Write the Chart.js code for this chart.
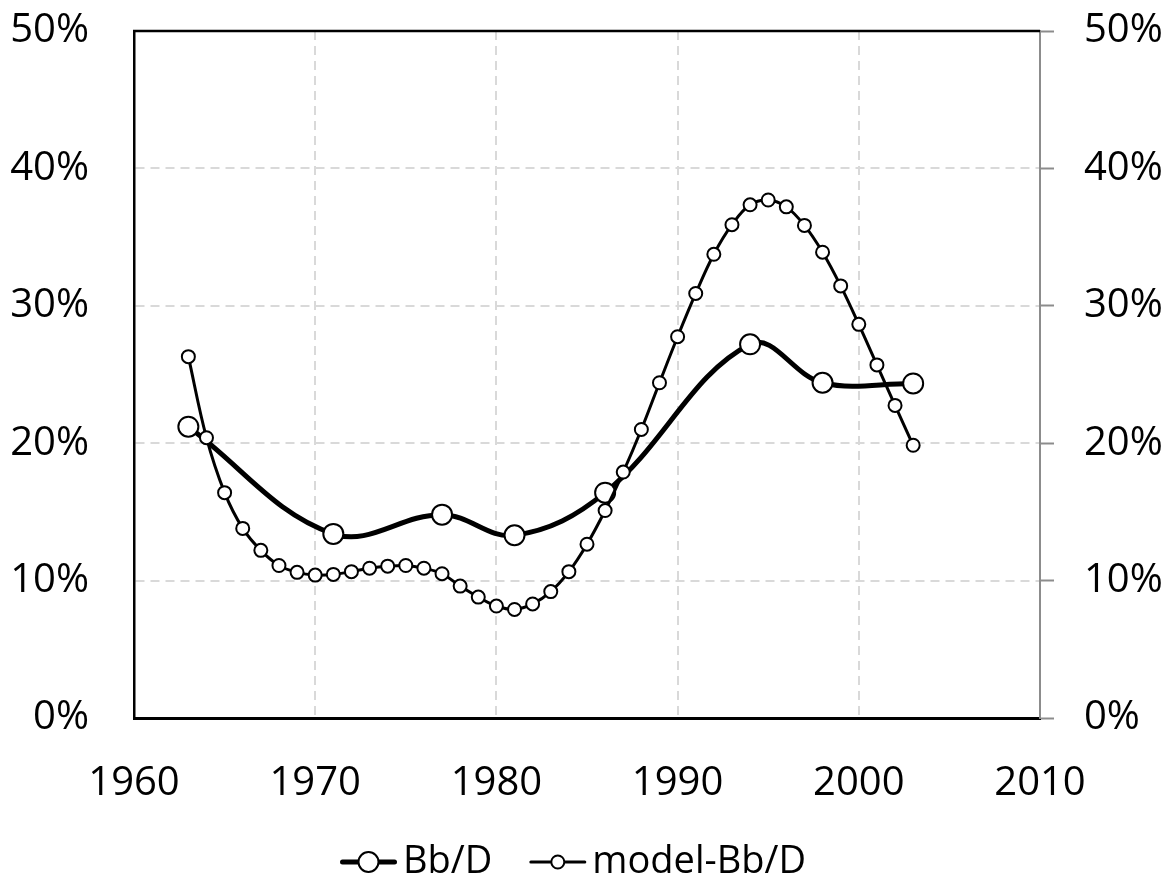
<!DOCTYPE html>
<html><head><meta charset="utf-8">
<script src="https://cdn.jsdelivr.net/npm/chart.js@4.4.1/dist/chart.umd.min.js"></script>
<style>html,body{margin:0;padding:0;background:#fff}#wrap{width:1169px;height:881px}</style>
</head><body><div id="wrap"><canvas id="c" width="1169" height="881"></canvas></div>
<script>
// ---- data ----
const bbYears = [1963, 1971, 1977, 1981, 1986, 1994, 1998, 2003];
const bbValues = [21.2, 13.4, 14.8, 13.3, 16.4, 27.2, 24.4, 24.35];

const modelYears = [1963, 1964, 1965, 1966, 1967, 1968, 1969, 1970, 1971, 1972,
  1973, 1974, 1975, 1976, 1977, 1978, 1979, 1980, 1981, 1982,
  1983, 1984, 1985, 1986, 1987, 1988, 1989, 1990, 1991, 1992,
  1993, 1994, 1995, 1996, 1997, 1998, 1999, 2000, 2001, 2002, 2003];
const modelValues = [26.3, 20.4, 16.4, 13.8, 12.2, 11.1, 10.6, 10.4, 10.45, 10.65,
  10.9, 11.05, 11.1, 10.9, 10.5, 9.6, 8.8, 8.15, 7.9, 8.3,
  9.2, 10.65, 12.65, 15.1, 17.9, 21.0, 24.4, 27.75, 30.9, 33.75,
  35.9, 37.35, 37.7, 37.2, 35.85, 33.9, 31.45, 28.65, 25.7, 22.75, 19.85];

const seriesNames = ['Bb/D', 'model-Bb/D'];
const xTicks = [1960, 1970, 1980, 1990, 2000, 2010];
const yTicks = [0, 10, 20, 30, 40, 50];

// ---- helpers ----
const FONT = "'Open Sans', 'DejaVu Sans', sans-serif";
function pairs(xs, ys) { return xs.map((x, i) => ({x: x, y: ys[i]})); }

const frame = {
  id: 'frame',
  beforeDatasetsDraw(chart) {
    const {ctx, chartArea: a} = chart;
    ctx.save();
    ctx.strokeStyle = '#000';
    ctx.lineWidth = 2.5;
    ctx.beginPath(); ctx.moveTo(a.left - 1, a.top); ctx.lineTo(a.right, a.top); ctx.stroke();
    ctx.restore();
  }
};

// legend: line + marker sample followed by the series name
const bottomLegend = {
  id: 'bottomLegend',
  afterDraw(chart) {
    const ctx = chart.ctx;
    const y = 862;
    let x = 340;
    ctx.save();
    ctx.font = '38px ' + FONT;
    ctx.textBaseline = 'alphabetic';
    ctx.fillStyle = '#000';
    chart.data.datasets.forEach((ds, i) => {
      const w = 57;
      ctx.lineCap = 'round';
      ctx.strokeStyle = '#000';
      ctx.lineWidth = ds.borderWidth;
      ctx.beginPath(); ctx.moveTo(x + ds.borderWidth / 2, y); ctx.lineTo(x + w - ds.borderWidth / 2, y); ctx.stroke();
      ctx.beginPath(); ctx.arc(x + w / 2, y, ds.pointRadius, 0, Math.PI * 2);
      ctx.fillStyle = '#fff'; ctx.fill();
      ctx.lineWidth = ds.pointBorderWidth; ctx.stroke();
      ctx.fillStyle = '#000';
      x += w + 6;
      ctx.fillText(ds.label, x, 873);
      x += ctx.measureText(ds.label).width + 37;
    });
    ctx.restore();
  }
};

function noPad(s) { s.paddingTop = 0; s.paddingBottom = 0; s.paddingLeft = 0; s.paddingRight = 0; }

new Chart(document.getElementById('c'), {
  type: 'line',
  data: {
    datasets: [
      {
        label: seriesNames[0],
        data: pairs(bbYears, bbValues),
        borderColor: '#000', borderWidth: 5,
        pointRadius: 10, pointBorderWidth: 2,
        pointBackgroundColor: '#fff', pointBorderColor: '#000',
        tension: 0.38, fill: false, order: 2, yAxisID: 'y'
      },
      {
        label: seriesNames[1],
        data: pairs(modelYears, modelValues),
        borderColor: '#000', borderWidth: 3,
        pointRadius: 6.5, pointBorderWidth: 2,
        pointBackgroundColor: '#fff', pointBorderColor: '#000',
        tension: 0.38, fill: false, order: 1, yAxisID: 'y'
      }
    ]
  },
  options: {
    responsive: false,
    devicePixelRatio: 1,
    animation: false,
    layout: { padding: { top: 31, left: 0, right: 0, bottom: 0 } },
    plugins: {
      tooltip: { enabled: false },
      legend: { display: false }
    },
    scales: {
      x: {
        type: 'linear', min: xTicks[0], max: xTicks[xTicks.length - 1],
        afterBuildTicks(s) { s.ticks = xTicks.map(v => ({value: v})); },
        afterFit(s) { s.height = 163; noPad(s); },
        ticks: { color: '#000', font: { family: FONT, size: 40 }, padding: 42, maxRotation: 0, callback: v => String(v) },
        grid: { color: '#d9d9d9', lineWidth: 2, drawTicks: false },
        border: { color: '#000', width: 3, dash: [9, 6] }
      },
      y: {
        type: 'linear', position: 'left', min: 0, max: 50,
        afterBuildTicks(s) { s.ticks = yTicks.map(v => ({value: v})); },
        afterFit(s) { s.width = 134; noPad(s); },
        ticks: { color: '#000', font: { family: FONT, size: 40 }, padding: 45, callback: v => v + '%' },
        grid: { color: '#d9d9d9', lineWidth: 2, drawTicks: false },
        border: { color: '#000', width: 2.5, dash: [9, 6] }
      },
      y2: {
        type: 'linear', position: 'right', min: 0, max: 50,
        afterBuildTicks(s) { s.ticks = yTicks.map(v => ({value: v})); },
        afterFit(s) { s.width = 129; noPad(s); },
        ticks: { color: '#000', font: { family: FONT, size: 40 }, padding: 30, callback: v => v + '%' },
        grid: { drawOnChartArea: false, drawTicks: true, tickLength: 14, tickColor: '#8c8c8c', tickWidth: 2 },
        border: { color: '#8c8c8c', width: 2 }
      }
    }
  },
  plugins: [frame, bottomLegend]
});
</script>
</body></html>
